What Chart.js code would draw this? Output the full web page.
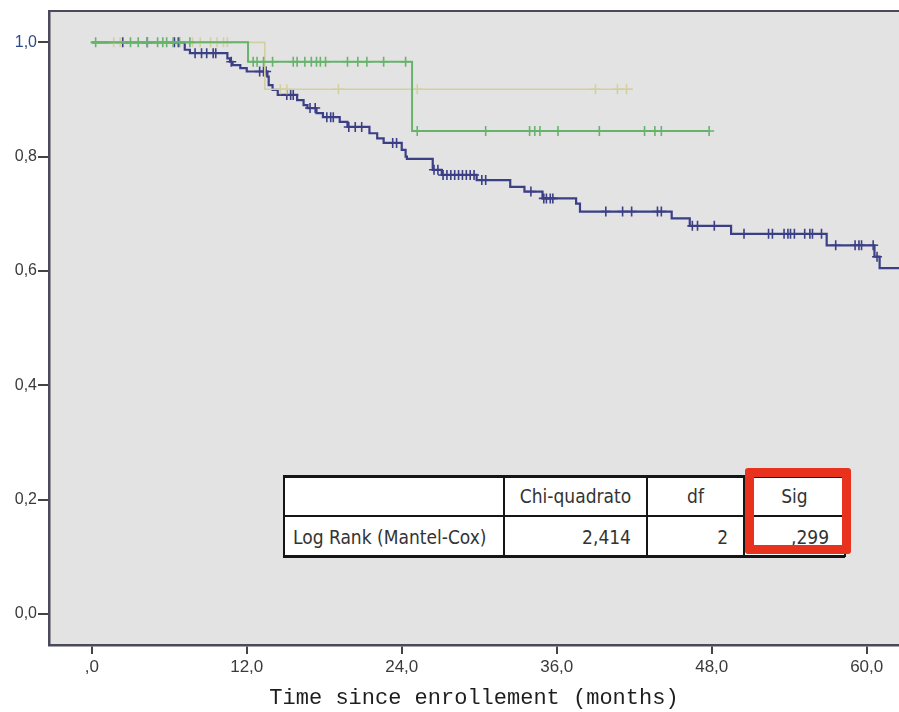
<!DOCTYPE html>
<html>
<head>
<meta charset="utf-8">
<script src="https://cdn.jsdelivr.net/npm/chart.js@4.4.1/dist/chart.umd.min.js"></script>
<style>
  html, body { margin: 0; padding: 0; background: #fff; }
  #wrap { position: relative; width: 899px; height: 712px; overflow: hidden; }
  #km { display: block; }
  .tbl-box { position: absolute; background: #fff; }
  .tbl-line { position: absolute; background: #151515; }
  .tbl-cell {
    position: absolute; display: flex; align-items: center;
    font-family: "DejaVu Sans Condensed", "DejaVu Sans", sans-serif;
    font-size: 19px; color: #333; white-space: nowrap; box-sizing: border-box;
  }
  .red-box {
    position: absolute; border: 9px solid #e8321e; border-radius: 3px;
    box-sizing: border-box;
  }
</style>
</head>
<body>
<div id="wrap">
  <canvas id="km" width="899" height="712"></canvas>
</div>
<script>
// survival steps (months, cumulative survival)
const blueTimes = [0, 7.2, 7.6, 10.5, 10.7, 10.9, 11.5, 12.0, 13.6, 13.7, 14.0, 14.4, 15.9, 16.4, 16.7, 17.4, 17.9, 19.2, 19.8, 21.5, 22.1, 22.6, 24.0, 24.3, 24.4, 26.4, 27.1, 29.8, 32.4, 33.5, 34.9, 37.5, 37.8, 44.9, 46.3, 49.5, 56.9, 60.6, 61.0];
const blueSurv = [1.0, 0.987, 0.981, 0.972, 0.966, 0.960, 0.955, 0.949, 0.940, 0.925, 0.917, 0.908, 0.899, 0.890, 0.885, 0.876, 0.869, 0.861, 0.852, 0.841, 0.832, 0.824, 0.812, 0.800, 0.796, 0.777, 0.768, 0.759, 0.747, 0.739, 0.727, 0.718, 0.704, 0.692, 0.679, 0.665, 0.645, 0.625, 0.605];
const blueEnd = 63.0;
const blueCensored = [2.4, 4.3, 6.4, 6.7, 8.0, 8.5, 8.9, 9.4, 9.6, 10.8, 13.0, 13.3, 13.5, 15.1, 15.4, 15.6, 16.9, 17.3, 18.2, 18.5, 18.7, 19.9, 20.4, 20.9, 23.3, 23.6, 26.5, 26.8, 27.2, 27.5, 27.8, 28.1, 28.4, 28.7, 29.0, 29.3, 29.6, 30.2, 30.5, 34.0, 35.0, 35.2, 35.5, 35.7, 39.8, 41.1, 41.8, 43.8, 44.1, 46.5, 46.9, 48.2, 50.5, 52.4, 52.7, 53.6, 53.9, 54.1, 54.4, 55.2, 55.6, 55.8, 56.5, 57.6, 59.1, 59.4, 59.6, 60.5, 60.8];

const greenTimes = [0, 12.1, 24.8];
const greenSurv = [1.0, 0.966, 0.845];
const greenEnd = 47.8;
const greenCensored = [0.3, 3.0, 3.6, 4.3, 5.1, 5.5, 5.8, 6.3, 6.8, 7.6, 12.5, 12.8, 13.3, 14.0, 15.6, 15.9, 16.5, 17.0, 17.4, 17.7, 18.1, 19.8, 20.6, 21.3, 22.6, 24.3, 25.2, 30.5, 33.9, 34.3, 34.7, 36.1, 39.3, 42.8, 43.6, 44.1, 47.8];

const yellowTimes = [0, 13.4];
const yellowSurv = [1.0, 0.918];
const yellowEnd = 41.9;
const yellowCensored = [1.7, 2.2, 7.8, 8.4, 9.2, 9.7, 10.2, 10.5, 14.6, 15.1, 19.1, 25.2, 39.0, 40.7, 41.4];

const xTickValues = [0, 12, 24, 36, 48, 60];
const xTickLabels = [",0", "12,0", "24,0", "36,0", "48,0", "60,0"];
const yTickValues = [0, 0.2, 0.4, 0.6, 0.8, 1.0];
const yTickLabels = ["0,0", "0,2", "0,4", "0,6", "0,8", "1,0"];
const xTitle = "Time since enrollement (months)";

const tableHead = ["", "Chi-quadrato", "df", "Sig"];
const tableRow = ["Log Rank (Mantel-Cox)", "2,414", "2", ",299"];

// ---- helpers ----
const stepPoints = (times, surv, end) => {
  const pts = times.map((t, i) => ({ x: t, y: surv[i] }));
  pts.push({ x: end, y: surv[surv.length - 1] });
  return pts;
};

const survAt = (times, surv, t) => {
  let s = surv[0];
  times.forEach((ti, i) => {
    if (ti <= t) s = surv[i];
  });
  return s;
};

const censorPoints = (censored, times, surv) =>
  censored.map((t) => ({ x: t, y: survAt(times, surv, t) }));

const BLUE = "#3b3f86";
const GREEN = "#67b36c";
const YELLOW = "#d3cf9f";

const curve = (label, data, color, width, order) => ({
  label,
  data,
  showLine: true,
  stepped: true,
  borderColor: color,
  borderWidth: width,
  pointRadius: 0,
  fill: false,
  order,
});

const marks = (label, data, color, order) => ({
  label,
  data,
  showLine: false,
  pointStyle: "cross",
  pointRadius: 5,
  pointBorderWidth: 1.6,
  pointBorderColor: color,
  pointBackgroundColor: color,
  order,
});

const plotFrame = {
  id: "plotFrame",
  beforeDraw(chart) {
    const { ctx, chartArea: a } = chart;
    ctx.save();
    ctx.fillStyle = "#e3e3e3";
    ctx.fillRect(a.left, a.top, a.right - a.left, a.bottom - a.top);
    ctx.strokeStyle = "#4a4a5a";
    ctx.lineWidth = 2;
    ctx.beginPath();
    ctx.moveTo(a.left, a.top);
    ctx.lineTo(a.right, a.top);
    ctx.stroke();
    ctx.restore();
  },
};

new Chart(document.getElementById("km"), {
  type: "scatter",
  data: {
    datasets: [
      curve("blue", stepPoints(blueTimes, blueSurv, blueEnd), BLUE, 2.2, 6),
      marks("blue censored", censorPoints(blueCensored, blueTimes, blueSurv), BLUE, 5),
      curve("yellow", stepPoints(yellowTimes, yellowSurv, yellowEnd), YELLOW, 1.6, 4),
      marks("yellow censored", censorPoints(yellowCensored, yellowTimes, yellowSurv), YELLOW, 3),
      curve("green", stepPoints(greenTimes, greenSurv, greenEnd), GREEN, 2, 2),
      marks("green censored", censorPoints(greenCensored, greenTimes, greenSurv), GREEN, 1),
    ],
  },
  options: {
    responsive: false,
    animation: false,
    devicePixelRatio: 1,
    layout: { autoPadding: false, padding: { top: 11, right: 0, bottom: 0, left: 0 } },
    plugins: {
      legend: { display: false },
      tooltip: { enabled: false },
    },
    scales: {
      x: {
        type: "linear",
        min: -3.31,
        max: 62.5,
        afterBuildTicks: (scale) => {
          scale.ticks = xTickValues.map((v) => ({ value: v }));
        },
        afterFit: (scale) => {
          scale.height = 67;
          // plot runs to the right edge of the picture
          scale.paddingLeft = 0;
          scale.paddingRight = 0;
        },
        border: { display: true, color: "#4a4a5a", width: 2.5 },
        grid: { drawOnChartArea: false, drawTicks: true, tickLength: 9, color: "#444", lineWidth: 2 },
        ticks: {
          autoSkip: false,
          maxRotation: 0,
          padding: 3,
          color: "#3a3a3a",
          font: { family: "'Liberation Sans Narrow', 'Liberation Sans', sans-serif", size: 17 },
          callback: (v) => xTickLabels[xTickValues.indexOf(v)],
        },
        title: {
          display: true,
          text: xTitle,
          color: "#1e1e1e",
          padding: { top: 0, bottom: 3 },
          font: { family: "'Liberation Mono', 'DejaVu Sans Mono', monospace", size: 22, lineHeight: 1 },
        },
      },
      y: {
        type: "linear",
        min: -0.0542,
        max: 1.0548,
        afterBuildTicks: (scale) => {
          scale.ticks = yTickValues.map((v) => ({ value: v }));
        },
        afterFit: (scale) => {
          scale.width = 49;
        },
        border: { display: true, color: "#4a4a5a", width: 2.5 },
        grid: { drawOnChartArea: false, drawTicks: true, tickLength: 11, color: "#444", lineWidth: 2 },
        ticks: {
          autoSkip: false,
          padding: 1,
          color: (ctx) => (ctx.tick && ctx.tick.value === 1 ? "#2d4a8c" : "#3a3a3a"),
          font: { family: "'Liberation Sans', Arial, sans-serif", size: 16 },
          callback: (v) => yTickLabels[yTickValues.indexOf(v)],
        },
      },
    },
  },
  plugins: [plotFrame],
});

// ---- Log Rank table drawn over the plot ----
const wrap = document.getElementById("wrap");
const colEdges = [283, 504, 647, 744, 845];
const rowEdges = [476, 516, 557];

const addDiv = (cls, style, text) => {
  const d = document.createElement("div");
  d.className = cls;
  Object.assign(d.style, style);
  if (text !== undefined) d.textContent = text;
  wrap.appendChild(d);
  return d;
};

addDiv("tbl-box", { left: "283px", top: "476px", width: "562px", height: "81px" });

[tableHead, tableRow].forEach((row, r) => {
  row.forEach((txt, c) => {
    if (!txt) return;
    const left = colEdges[c];
    const width = colEdges[c + 1] - colEdges[c];
    let justify = "center";
    let pad = { paddingLeft: "0px", paddingRight: "0px" };
    if (r === 1 && c === 0) {
      justify = "flex-start";
      pad.paddingLeft = "10px";
    } else if (r === 1) {
      justify = "flex-end";
      pad.paddingRight = "16px";
    }
    addDiv("tbl-cell", {
      left: left + "px",
      top: rowEdges[r] + "px",
      width: width + "px",
      height: rowEdges[r + 1] - rowEdges[r] + "px",
      justifyContent: justify,
      ...pad,
    }, txt);
  });
});

// rules of the table
addDiv("tbl-line", { left: "283px", top: "475px", width: "562px", height: "3px" });
addDiv("tbl-line", { left: "283px", top: "555px", width: "562px", height: "3px" });
addDiv("tbl-line", { left: "283px", top: "515px", width: "562px", height: "2px" });
addDiv("tbl-line", { left: "283px", top: "476px", width: "2px", height: "81px" });
colEdges.slice(1).forEach((x) => {
  addDiv("tbl-line", { left: x - 1 + "px", top: "476px", width: "2px", height: "81px" });
});

addDiv("red-box", { left: "745px", top: "468px", width: "106px", height: "86px" });
</script>
</body>
</html>
